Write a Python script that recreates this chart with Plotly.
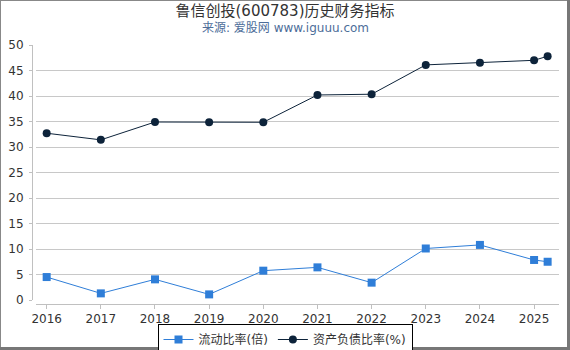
import plotly.graph_objects as go

# ---- data ----
years = [2016, 2017, 2018, 2019, 2020, 2021, 2022, 2023, 2024, 2025, 2025.25]
current_ratio = [4.5, 1.3, 4.05, 1.1, 5.75, 6.4, 3.4, 10.1, 10.8, 7.85, 7.5]
debt_ratio = [32.7, 31.4, 34.9, 34.85, 34.85, 40.2, 40.35, 46.1, 46.5, 47.0, 47.8]
x_tick_vals = [2016, 2017, 2018, 2019, 2020, 2021, 2022, 2023, 2024, 2025]
y_tick_vals = [0, 5, 10, 15, 20, 25, 30, 35, 40, 45, 50]
series_names = ["流动比率(倍)", "资产负债比率(%)"]
title_text = "鲁信创投(600783)历史财务指标"
subtitle_text = "来源: 爱股网 www.iguuu.com"

W, H = 570, 350
FONT = "DejaVu Sans, Noto Sans CJK SC, sans-serif"

fig = go.Figure()
fig.add_trace(go.Scatter(
    x=years, y=current_ratio, name=series_names[0], mode="lines+markers",
    line=dict(color="#2f7ed8", width=1),
    marker=dict(symbol="square", size=8, color="#2f7ed8"),
))
fig.add_trace(go.Scatter(
    x=years, y=debt_ratio, name=series_names[1], mode="lines+markers",
    line=dict(color="#0d233a", width=1),
    marker=dict(symbol="circle", size=8, color="#0d233a"),
))

x0_px, x1_px = 36, 559
y_top_px, y_bot_px = 45, 300
y_dom = [(H - y_bot_px) / H, (H - y_top_px) / H]

fig.update_layout(
    width=W, height=H,
    margin=dict(l=0, r=0, t=0, b=0, autoexpand=False),
    paper_bgcolor="white", plot_bgcolor="white",
    font=dict(family=FONT, size=12, color="#333333"),
    title=dict(text=title_text, x=0.5, xanchor="center", xref="paper",
               y=1 - 11 / H, yanchor="middle", yref="container",
               font=dict(size=15, color="#333333", family=FONT)),
    annotations=[dict(text=subtitle_text, x=0.5, xanchor="center", xref="paper",
                      y=1 - 28 / H, yanchor="middle", yref="paper", showarrow=False,
                      font=dict(size=12, color="#4d6d99", family=FONT))],
    xaxis=dict(
        domain=[x0_px / W, x1_px / W],
        range=[2015.803, 2025.46],
        anchor="free", position=(H - 304) / H,
        showline=True, linecolor="#c0c0c0", linewidth=1,
        ticks="outside", ticklen=4, tickcolor="#c0c0c0",
        tickvals=x_tick_vals, ticktext=[str(v) for v in x_tick_vals],
        showgrid=False, zeroline=False, automargin=False,
        tickfont=dict(size=12, color="#333333"),
    ),
    yaxis=dict(
        domain=y_dom,
        range=[0, 50],
        anchor="free", position=32 / W,
        showline=True, linecolor="#c0c0c0", linewidth=1,
        ticks="outside", ticklen=3, tickcolor="#c0c0c0",
        tickvals=y_tick_vals, ticklabelstandoff=3,
        showgrid=False, zeroline=False,
        automargin=False,
        tickfont=dict(size=12, color="#333333"),
    ),
    yaxis2=dict(
        domain=y_dom, range=[0, 50], overlaying="y",
        anchor="x", side="left",
        tickvals=y_tick_vals[1:], showticklabels=False, ticks="",
        showgrid=True, gridcolor="#c8c8c8", gridwidth=1, zeroline=False,
        showline=False, automargin=False,
    ),
    legend=dict(
        orientation="h", x=0.5, xanchor="center", xref="paper",
        y=(H - 324) / H, yanchor="top", yref="paper",
        bordercolor="#000000", borderwidth=1,
        font=dict(size=12, color="#333333"),
        itemwidth=30, tracegroupgap=0,
    ),
    showlegend=True,
    shapes=[
        dict(type="rect", xref="paper", yref="paper", x0=0, x1=1, y0=1 - 1 / H, y1=1,
             fillcolor="#888888", line=dict(width=0)),
        dict(type="rect", xref="paper", yref="paper", x0=0, x1=1 / W, y0=0, y1=1,
             fillcolor="#888888", line=dict(width=0)),
        dict(type="rect", xref="paper", yref="paper", x0=1 - 3 / W, x1=1, y0=0, y1=1,
             fillcolor="#777777", line=dict(width=0)),
        dict(type="rect", xref="paper", yref="paper", x0=0, x1=1, y0=0, y1=3 / H,
             fillcolor="#777777", line=dict(width=0)),
    ],
)
# invisible trace to activate the grid-only overlay axis
fig.add_trace(go.Scatter(x=[years[0]], y=[y_tick_vals[0]], yaxis="y2", mode="markers",
                         marker=dict(opacity=0), showlegend=False, hoverinfo="skip"))

fig.write_html("out.html")
